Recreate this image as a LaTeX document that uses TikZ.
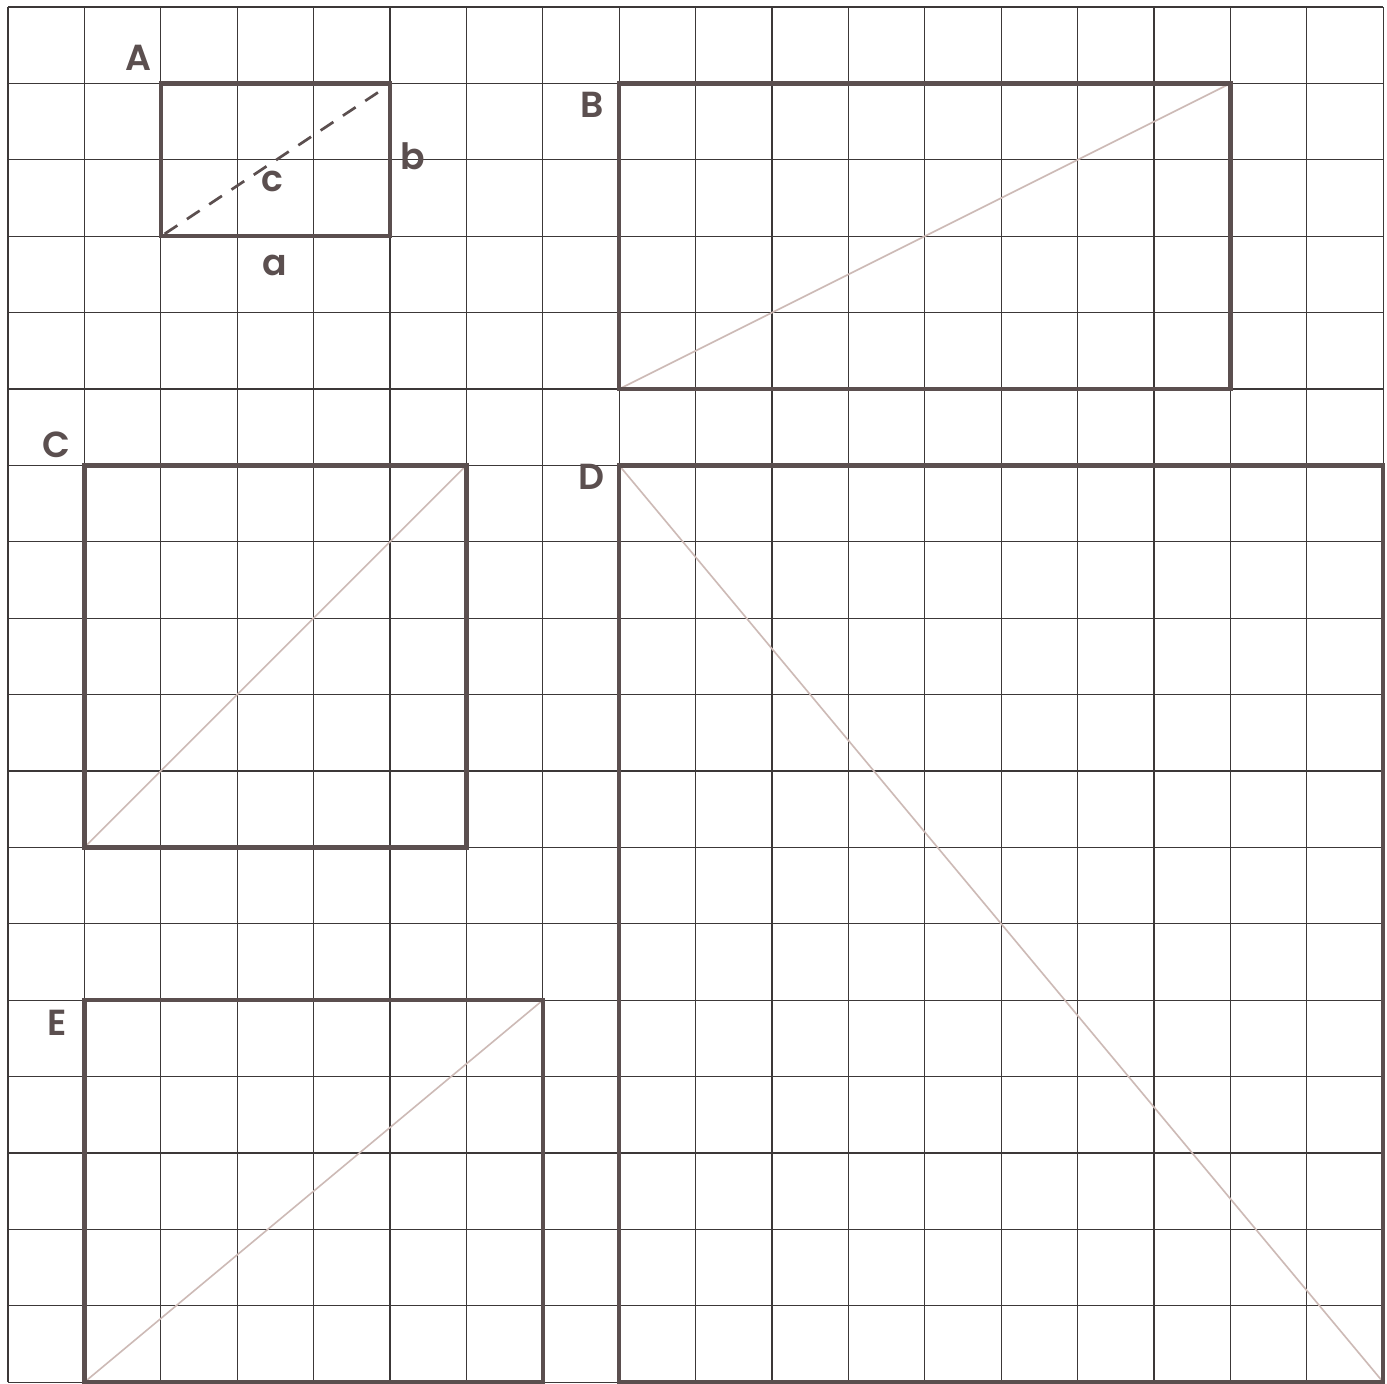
\documentclass[tikz,border=0pt]{standalone}
\usepackage{fontspec}
\setmainfont{Poppins}[BoldFont={* SemiBold}]
\usepackage{tikz}
\usetikzlibrary{calc}

\definecolor{boxbrown}{HTML}{5B4F4F}
\definecolor{gridgrey}{HTML}{3C3838}
\definecolor{diagpink}{HTML}{CDBAB6}

\begin{document}
\begin{tikzpicture}[
        box line/.style={line width=1.7pt, color=boxbrown},
        grid line/.style={line width=0.4pt, color=gridgrey},
        diag line/.style={line width=0.6pt, color=diagpink},
        dashed line/.style={line width=1pt, color=boxbrown, dash pattern=on 0.2cm off 0.15cm},
        letter/.style={color=boxbrown, font=\fontsize{13.5}{16}\selectfont\bfseries, inner sep=0pt}
      ]
      \useasboundingbox (-0.105,-0.013) rectangle (18.05,18.092);
      \fill[white] (-0.105,-0.013) rectangle (18.05,18.092);
      \draw[grid line] (0,0) grid (18,18);

      % corners of the boxes
      \coordinate (A1) at (2,15);  \coordinate (A2) at (5,17);
      \coordinate (B1) at (8,13);  \coordinate (B2) at (16,17);
      \coordinate (C1) at (1,7);   \coordinate (C2) at (6,12);
      \coordinate (D1) at (8,0);   \coordinate (D2) at (18,12);
      \coordinate (E1) at (1,0);   \coordinate (E2) at (7,5);

      \draw[dashed line] ($(A1)+(0.05,0.03)$) -- ($(A2)+(-0.07,-0.06)$);
      \draw[diag line] (B1) -- (B2);
      \draw[diag line] (C1) -- (C2);
      \draw[diag line] (D1 |- D2) -- (D2 |- D1);
      \draw[diag line] (E1) -- (E2);

      \draw[box line] (A1) rectangle (A2);
      \draw[box line] (B1) rectangle (B2);
      \draw[box line] (C1) rectangle (C2);
      \draw[box line] (D1) rectangle (D2);
      \draw[box line] (E1) rectangle (E2);

      \node[letter] (labA) at (1.71,17.33) {A};
      \node[letter] (labB) at (7.64,16.72) {B};
      \node[letter] (labC) at (0.64,12.27) {C};
      \node[letter] (labD) at (7.64,11.85) {D};
      \node[letter] (labE) at (0.64,4.71) {E};
      \node[letter] (laba) at (3.49,14.62) {a};
      \node[letter] (labb) at (5.30,16.04) {b};
      \node[letter] (labc) at (3.46,15.71) {c};
\end{tikzpicture}
\end{document}
